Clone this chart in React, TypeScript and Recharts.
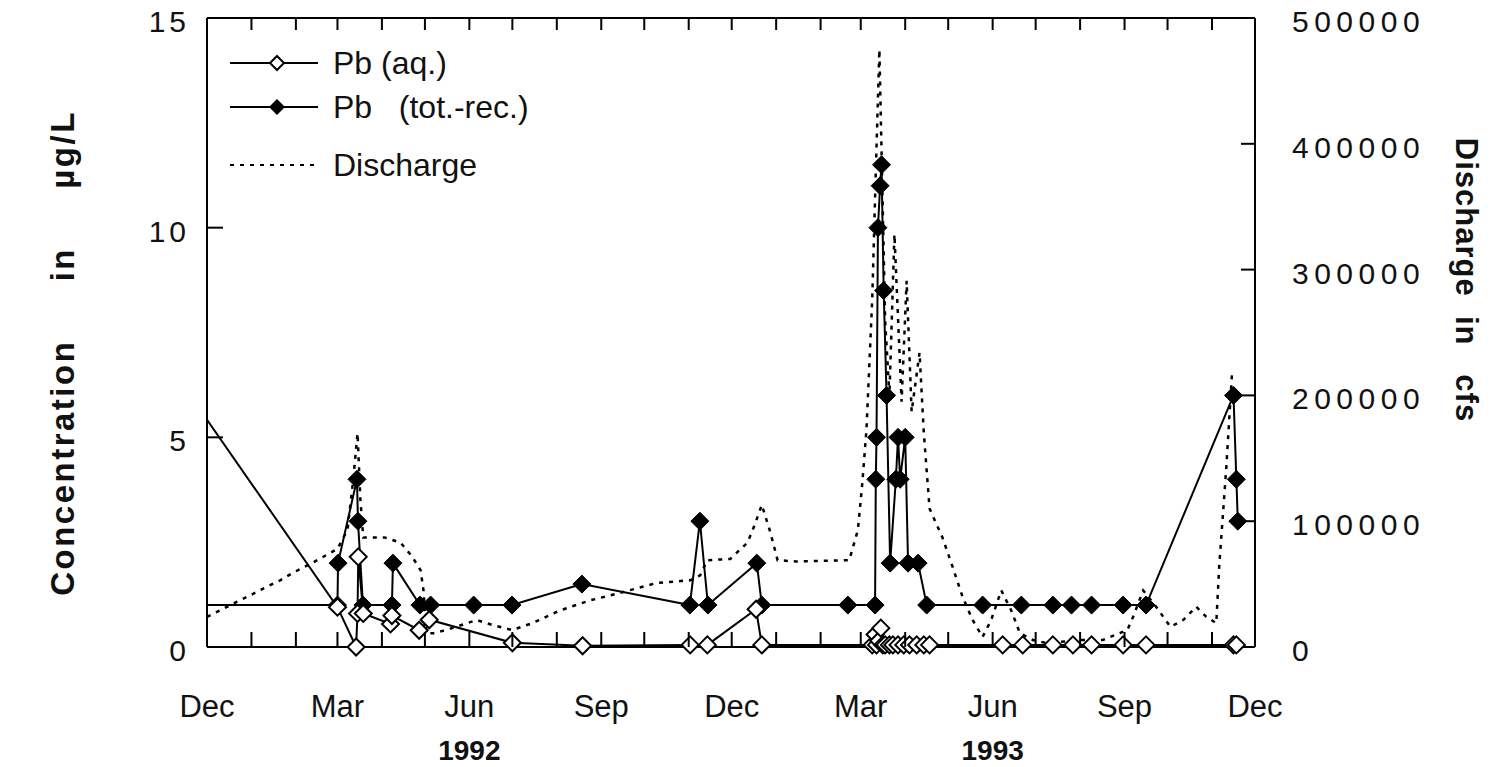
import React from "react";
import { LineChart, Line, XAxis, YAxis, Legend, Label } from "recharts";

const FONT = "'Liberation Sans', Arial, Helvetica, sans-serif";

// x is days counted from 1 Dec 1991; ticks on the first of each month
const monthDays = [0, 31, 62, 91, 122, 152, 183, 213, 244, 275, 305, 336, 366, 397, 428, 456, 487, 517, 548, 578, 609, 640, 670, 701, 731];
const monthNames = ["Dec", "Jan", "Feb", "Mar", "Apr", "May", "Jun", "Jul", "Aug", "Sep", "Oct", "Nov", "Dec", "Jan", "Feb", "Mar", "Apr", "May", "Jun", "Jul", "Aug", "Sep", "Oct", "Nov", "Dec"];
const yearLabels: { [day: number]: string } = { 183: "1992", 548: "1993" };

const concTicks = [0, 5, 10, 15];
const flowTicks = [0, 100000, 200000, 300000, 400000, 500000];

// Pb (aq.), ug/L
const aqDays = [-20, 91, 104, 105, 105.5, 109, 128, 129, 148, 155, 213, 262, 337, 349, 383, 387, 464, 466, 467, 468.6, 470, 471.4, 473, 476, 478.4, 482, 486, 490, 495, 500, 504, 555, 569, 590, 604, 617, 639, 655, 716, 718];
const aqConc = [6.4, 0.95, 0, 0.8, 2.15, 0.8, 0.55, 0.75, 0.4, 0.65, 0.1, 0.03, 0.05, 0.05, 0.9, 0.05, 0.05, 0.3, 0.05, 0.15, 0.45, 0.05, 0.05, 0.05, 0.05, 0.05, 0.05, 0.05, 0.05, 0.05, 0.05, 0.05, 0.05, 0.05, 0.05, 0.05, 0.05, 0.05, 0.05, 0.05];

// Pb (tot.-rec.), ug/L
const totDays = [-20, 91, 91.4, 104.6, 105.3, 108.8, 129, 129.7, 148.5, 156, 186, 212.7, 261.5, 336.8, 343.8, 349.4, 383.5, 387, 447, 466, 466.5, 467, 468, 469.5, 470.5, 472, 474, 476.5, 480.5, 482, 483.5, 487, 489, 496, 502, 541, 568, 590, 603, 617, 639, 655, 716, 718, 719];
const totConc = [1, 1, 2, 4, 3, 1, 1, 2, 1, 1, 1, 1, 1.5, 1, 3, 1, 2, 1, 1, 1, 4, 5, 10, 11, 11.5, 8.5, 6, 2, 4, 5, 4, 5, 2, 2, 1, 1, 1, 1, 1, 1, 1, 1, 6, 4, 3];

// Discharge, cfs
const flowDays = [0, 21, 30, 42, 51, 60, 72, 80, 91, 98, 102, 105, 107, 109, 124, 135, 143, 149, 151, 153, 158, 167, 179, 188, 199, 213, 227, 246, 267, 288, 314, 337, 344, 349, 365, 377, 382, 387, 393, 398, 411, 448, 454, 457, 460, 464, 466.5, 469, 473, 476, 479.5, 484.5, 488, 491.5, 497, 500, 504, 513, 520, 527, 534, 541, 547, 554, 561, 567, 576, 586, 609, 625, 642, 646, 653, 662, 672, 681, 690, 697, 704, 706, 711, 715];
const flowCfs = [24000, 36000, 41000, 48000, 53000, 59000, 66000, 71000, 78000, 93000, 133000, 170000, 117000, 87000, 87000, 83000, 72000, 61000, 45000, 11000, 11000, 13500, 18000, 21500, 17500, 13500, 19000, 29000, 37000, 43000, 51000, 53000, 57000, 69000, 70000, 83000, 97000, 113000, 91000, 69000, 68000, 69000, 93000, 129000, 173000, 276000, 378000, 475000, 260000, 200000, 328000, 195000, 291000, 187000, 234000, 170000, 110000, 87000, 64000, 40000, 21500, 8000, 21500, 45000, 29000, 11000, 5600, 3000, 5600, 5600, 13500, 24000, 45000, 32000, 16000, 21500, 32000, 24000, 19000, 63600, 143000, 218000];

const aqData = aqDays.map((day, i) => ({ day, conc: aqConc[i] }));
const totData = totDays.map((day, i) => ({ day, conc: totConc[i] }));
const flowData = flowDays.map((day, i) => ({ day, flow: flowCfs[i] }));

const diamond = (cx: number, cy: number, r: number) =>
  `M${cx},${cy - r}L${cx + r},${cy}L${cx},${cy + r}L${cx - r},${cy}Z`;

const OpenDot = (p: any) => (
  <path key={p.key} d={diamond(p.cx, p.cy, 8.5)} fill="#fff" stroke="#000" strokeWidth={2} />
);
const FilledDot = (p: any) => (
  <path key={p.key} d={diamond(p.cx, p.cy, 9)} fill="#000" stroke="#000" strokeWidth={1} />
);

const BottomTick = ({ x, y, payload }: any) => {
  const i = monthDays.indexOf(payload.value);
  return (
    <g>
      <line x1={x} y1={y} x2={x} y2={y - 15} stroke="#000" strokeWidth={2} />
      {i % 3 === 0 && (
        <text x={x} y={y + 70} textAnchor="middle" fontSize={31} fontFamily={FONT} fill="#111">
          {monthNames[i]}
        </text>
      )}
      {yearLabels[payload.value] && (
        <text x={x} y={y + 113} textAnchor="middle" fontSize={28} fontWeight="bold" fontFamily={FONT} fill="#111">
          {yearLabels[payload.value]}
        </text>
      )}
    </g>
  );
};

const TopTick = ({ x, y }: any) => (
  <line x1={x} y1={y} x2={x} y2={y + 12} stroke="#000" strokeWidth={2} />
);

const LeftTick = ({ x, y, payload }: any) => (
  <g>
    {payload.value > 0 && payload.value < 15 && (
      <line x1={x} y1={y} x2={x + 16} y2={y} stroke="#000" strokeWidth={2} />
    )}
    <text x={x - 17} y={y + 14} textAnchor="end" fontSize={30} letterSpacing={4} fontFamily={FONT} fill="#111">
      {payload.value}
    </text>
  </g>
);

const RightTick = ({ x, y, payload }: any) => (
  <g>
    {payload.value > 0 && payload.value < 500000 && (
      <line x1={x} y1={y} x2={x - 14} y2={y} stroke="#000" strokeWidth={2} />
    )}
    <text x={x + 37} y={y + 14} textAnchor="start" fontSize={30} letterSpacing={5.5} fontFamily={FONT} fill="#111">
      {payload.value}
    </text>
  </g>
);

const LeftTitle = () => (
  <text
    transform="translate(66,353) rotate(-90)"
    textAnchor="middle"
    fontSize={33}
    fontWeight="bold"
    letterSpacing={2.5}
    fontFamily={FONT}
    fill="#111"
    style={{ whiteSpace: "pre" }}
  >
    {"Concentration     in     \u00b5g/L"}
  </text>
);

const RightTitle = () => (
  <text
    transform="translate(1448,280) rotate(90)"
    textAnchor="middle"
    fontSize={31}
    fontWeight="bold"
    letterSpacing={1}
    fontFamily={FONT}
    fill="#111"
    style={{ whiteSpace: "pre" }}
  >
    {"Discharge  in   cfs"}
  </text>
);

const legendRows = [
  { label: "Pb (aq.)", kind: "open", y: 22 },
  { label: "Pb   (tot.-rec.)", kind: "filled", y: 66 },
  { label: "Discharge", kind: "dash", y: 124 },
];

const LegendBox = () => (
  <svg width={340} height={145}>
    {legendRows.map((r) => (
      <g key={r.label}>
        {r.kind === "dash" ? (
          <line x1={0} y1={r.y} x2={88} y2={r.y} stroke="#000" strokeWidth={2} strokeDasharray="4 6" />
        ) : (
          <line x1={0} y1={r.y} x2={88} y2={r.y} stroke="#000" strokeWidth={2} />
        )}
        {r.kind === "open" && <path d={diamond(47, r.y, 7)} fill="#fff" stroke="#000" strokeWidth={2} />}
        {r.kind === "filled" && <path d={diamond(47, r.y, 8)} fill="#000" />}
        <text x={103} y={r.y + 11} fontSize={32} fontFamily={FONT} fill="#111" style={{ whiteSpace: "pre" }}>
          {r.label}
        </text>
      </g>
    ))}
  </svg>
);

export default function App() {
  return (
    <LineChart
      width={1484}
      height={767}
      style={{ marginTop: -8 }}
      margin={{ top: 8, right: 0, bottom: 0, left: 0 }}
    >
      <XAxis
        xAxisId="b"
        dataKey="day"
        type="number"
        domain={[0, 731]}
        allowDataOverflow
        ticks={monthDays}
        interval={0}
        height={120}
        tickSize={0}
        tickMargin={0}
        tickLine={false}
        tick={<BottomTick />}
        axisLine={{ stroke: "#000", strokeWidth: 2 }}
      />
      <XAxis
        xAxisId="t"
        orientation="top"
        dataKey="day"
        type="number"
        domain={[0, 731]}
        allowDataOverflow
        ticks={monthDays}
        interval={0}
        height={10}
        tickSize={0}
        tickMargin={0}
        tickLine={false}
        tick={<TopTick />}
        axisLine={{ stroke: "#000", strokeWidth: 2 }}
      />
      <YAxis
        yAxisId="c"
        type="number"
        domain={[0, 15]}
        ticks={concTicks}
        interval={0}
        width={199}
        tickSize={0}
        tickMargin={0}
        tickLine={false}
        tick={<LeftTick />}
        axisLine={{ stroke: "#000", strokeWidth: 2 }}
      >
        <Label content={<LeftTitle />} />
      </YAxis>
      <YAxis
        yAxisId="q"
        orientation="right"
        type="number"
        domain={[0, 500000]}
        ticks={flowTicks}
        interval={0}
        width={237}
        tickSize={0}
        tickMargin={0}
        tickLine={false}
        tick={<RightTick />}
        axisLine={{ stroke: "#000", strokeWidth: 2 }}
      >
        <Label content={<RightTitle />} />
      </YAxis>
      <Legend
        layout="vertical"
        align="center"
        verticalAlign="middle"
        content={<LegendBox />}
        wrapperStyle={{ left: 222, top: 41, width: 340 }}
      />
      <Line
        data={flowData}
        xAxisId="b"
        yAxisId="q"
        dataKey="flow"
        stroke="#000"
        strokeWidth={2.5}
        strokeDasharray="4 6"
        dot={false}
        isAnimationActive={false}
      />
      <Line
        data={totData}
        xAxisId="b"
        yAxisId="c"
        dataKey="conc"
        stroke="#000"
        strokeWidth={2}
        dot={FilledDot}
        isAnimationActive={false}
      />
      <Line
        data={aqData}
        xAxisId="b"
        yAxisId="c"
        dataKey="conc"
        stroke="#000"
        strokeWidth={2}
        dot={OpenDot}
        isAnimationActive={false}
      />
    </LineChart>
  );
}
